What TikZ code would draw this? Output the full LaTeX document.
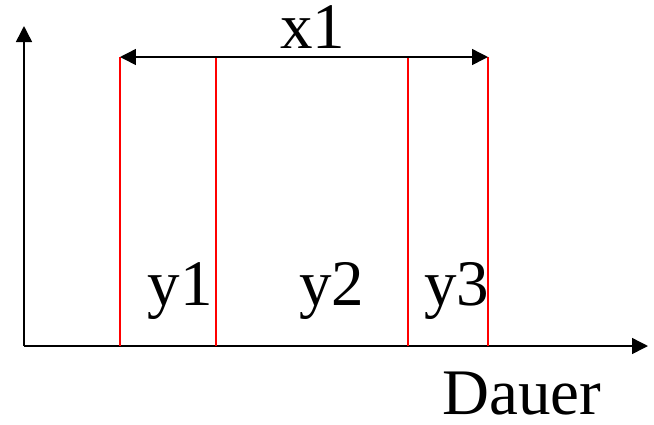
\documentclass[tikz,border=0pt]{standalone}
\usepackage{fontspec}
\setmainfont{Liberation Serif}
\usetikzlibrary{arrows.meta}

\begin{document}
\begin{tikzpicture}[
  x=0.02cm, y=-0.02cm,
  axis/.style={-{Triangle[length=0.32cm, width=0.32cm]}, line width=0.85pt},
  dim/.style={{Triangle[length=0.32cm, width=0.32cm]}-{Triangle[length=0.32cm, width=0.32cm]}, line width=0.85pt},
  mark line/.style={red, line width=0.6pt},
  lbl/.style={anchor=base, inner sep=0pt, text height=0.68em, text depth=0.2em, font=\fontsize{37}{40}\selectfont}
]
\useasboundingbox (0,0) rectangle (654,424);

% axes
\coordinate (origin) at (24,346);
\coordinate (ytip) at (24,26);
\coordinate (xtip) at (648,346);
\draw[axis] (origin) -- (ytip);
\draw[axis] (origin) -- (xtip);

% red markers
\foreach \name/\xpos in {a/120, b/216, c/408, d/488} {
  \coordinate (top-\name) at (\xpos,57);
  \coordinate (bot-\name) at (\xpos,346);
  \draw[mark line] (bot-\name) -- (top-\name);
}

% total span
\draw[dim] (top-a) -- (top-d);

\node[lbl] (x1) at (313,48) {x1};
\node[lbl] (y1) at (180,305) {y1};
\node[lbl] (y2) at (332,305) {y2};
\node[lbl] (y3) at (457,305) {y3};
\node[lbl, text depth=0pt] (dauer) at (522,414) {Dauer};
\end{tikzpicture}
\end{document}
